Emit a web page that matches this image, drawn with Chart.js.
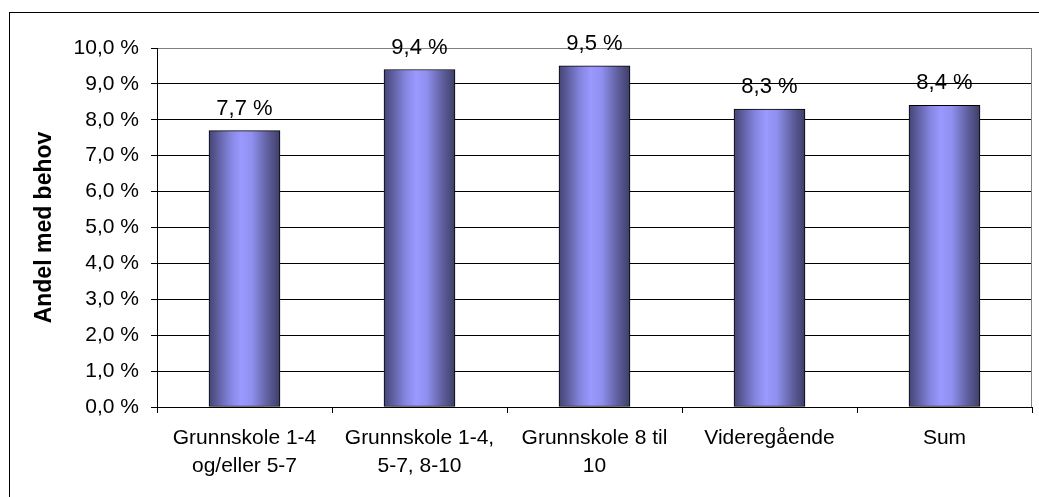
<!DOCTYPE html>
<html>
<head>
<meta charset="utf-8">
<script src="https://cdn.jsdelivr.net/npm/chart.js@4/dist/chart.umd.min.js"></script>
<style>
  html, body { margin: 0; padding: 0; background: #fff; }
  #wrap { width: 1039px; height: 497px; position: relative; }
</style>
</head>
<body>
<div id="wrap"><canvas id="c" width="1039" height="497"></canvas></div>
<script>
const categories = [
  ["Grunnskole 1-4", "og/eller 5-7"],
  ["Grunnskole 1-4,", "5-7, 8-10"],
  ["Grunnskole 8 til", "10"],
  "Videregående",
  "Sum"
];
const values = [7.7, 9.4, 9.5, 8.3, 8.4];
const yMin = 0, yMax = 10, yStep = 1;
const yTitle = "Andel med behov";

const fmt = v => v.toFixed(1).replace('.', ',') + ' %';
const FONT = "'Liberation Sans', Arial, sans-serif";
const BAR_W = 71;

const outerBorder = {
  id: 'outerBorder',
  beforeDraw(chart) {
    const c = chart.ctx;
    c.save();
    c.fillStyle = '#fff';
    c.fillRect(0, 0, chart.width, chart.height);
    c.strokeStyle = '#000';
    c.lineWidth = 1;
    c.strokeRect(9.5, 12.5, 1200, 700);
    c.restore();
  },
  beforeDatasetsDraw(chart) {
    const a = chart.chartArea, c = chart.ctx;
    c.save();
    c.strokeStyle = '#808080';
    c.lineWidth = 1;
    c.beginPath();
    c.moveTo(Math.round(a.right) - 0.5, a.top);
    c.lineTo(Math.round(a.right) - 0.5, a.bottom);
    c.stroke();
    c.restore();
  }
};

const valueLabels = {
  id: 'valueLabels',
  afterDatasetsDraw(chart) {
    const c = chart.ctx;
    const meta = chart.getDatasetMeta(0);
    c.save();
    c.font = "22px " + FONT;
    c.fillStyle = '#000';
    c.textAlign = 'center';
    c.textBaseline = 'alphabetic';
    meta.data.forEach((el, i) => {
      c.fillText(fmt(values[i]), el.x, el.y - 16);
    });
    c.restore();
  }
};

function barGradient(ctx) {
  const chart = ctx.chart;
  const xs = chart.scales && chart.scales.x;
  if (!xs || ctx.type !== 'data' || !xs.width) return '#9999ff';
  const cx = xs.getPixelForValue(ctx.dataIndex);
  const w = BAR_W;
  const g = chart.ctx.createLinearGradient(cx - w / 2, 0, cx + w / 2, 0);
  g.addColorStop(0, '#454578');
  g.addColorStop(0.08, '#555590');
  g.addColorStop(0.3, '#8585e0');
  g.addColorStop(0.45, '#9999ff');
  g.addColorStop(0.6, '#9090f0');
  g.addColorStop(0.82, '#6060a0');
  g.addColorStop(1, '#3e3e68');
  return g;
}

new Chart(document.getElementById('c'), {
  type: 'bar',
  data: {
    labels: categories,
    datasets: [{
      data: values,
      backgroundColor: barGradient,
      borderColor: '#000',
      borderWidth: 1,
      borderSkipped: false,
      barThickness: BAR_W
    }]
  },
  options: {
    responsive: false,
    animation: false,
    devicePixelRatio: 1,
    layout: { padding: { left: 0, top: 48, right: 7, bottom: 0 } },
    plugins: { legend: { display: false }, tooltip: { enabled: false } },
    scales: {
      x: {
        afterFit(s) { s.height = 90; },
        grid: { drawOnChartArea: false, drawTicks: true, tickLength: 6, color: '#000', offset: true },
        border: { color: '#000', width: 1 },
        ticks: {
          color: '#000',
          font: { family: FONT, size: 21, lineHeight: 1.35 },
          padding: 11,
          maxRotation: 0,
          autoSkip: false
        }
      },
      y: {
        min: yMin, max: yMax,
        afterFit(s) { s.width = 157; },
        grid: {
          color: c => (c.tick && c.tick.value === yMax) ? '#808080' : '#000',
          tickColor: '#000',
          tickLength: 6
        },
        border: { color: '#000', width: 1 },
        ticks: {
          stepSize: yStep,
          color: '#000',
          font: { family: FONT, size: 21 },
          padding: 12,
          callback: v => fmt(v)
        },
        title: {
          display: true,
          text: yTitle,
          color: '#000',
          font: { family: FONT, size: 23, weight: 'bold', lineHeight: 1.2 },
          padding: { top: 31, bottom: 0 }
        }
      }
    }
  },
  plugins: [outerBorder, valueLabels]
});
</script>
</body>
</html>
